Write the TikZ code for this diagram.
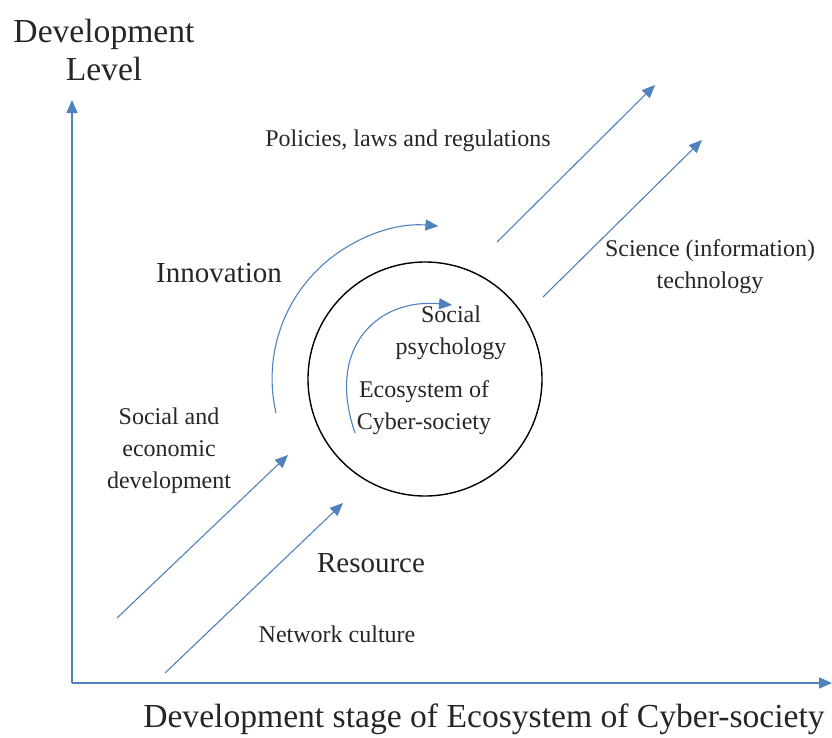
\documentclass[tikz,border=0pt]{standalone}
\usepackage{fontspec}
\setmainfont{Liberation Serif}
\usetikzlibrary{arrows.meta,positioning}
\definecolor{flowblue}{RGB}{79,129,189}

\begin{document}
\begin{tikzpicture}[x=1pt,y=1pt,flow/.style={draw=flowblue,line width=1.1pt,-{Triangle[length=13pt,width=11pt]}},axis/.style={flow,line width=1.6pt},lbl/.style={align=center,inner sep=0pt,text=black!85,font=\fontsize{24}{32}\selectfont},big/.style={lbl,font=\fontsize{29}{36}\selectfont},title/.style={lbl,font=\fontsize{33.6}{38}\selectfont}]
  \useasboundingbox (0,0) rectangle (832,-737);
  \coordinate (o) at (72,-683);
  \coordinate (ytip) at (72,-100);
  \coordinate (xtip) at (832,-683);
  \draw[axis] (o) -- (ytip);
  \draw[axis] (o) -- (xtip);
  \node[title] (ylab) at (104,-50) {Development\\Level};
  \node[title] (xlab) at (484,-719) {Development stage of Ecosystem of Cyber-society};

  \node[draw,circle,line width=1.4pt,minimum size=234pt,inner sep=0pt] (eco) at (425,-379) {};
  \node[lbl] (ecotxt) at (424,-408) {Ecosystem of\\Cyber-society};
  \node[lbl] (psy) at (451,-333) {Social\\psychology};

  \coordinate (inS) at (355,-433);
  \coordinate (inE) at (452,-305);
  \draw[flow] (inS) .. controls (325,-345) and (380,-298) .. (inE);
  \coordinate (outS) at (276,-413);
  \draw[flow] (outS) arc[start angle=193,end angle=85,radius=153];
  \node[big] (inno) at (219,-273) {Innovation};

  \coordinate (p1s) at (497,-242);
  \coordinate (p1e) at (655,-85);
  \coordinate (p2s) at (543,-297);
  \coordinate (p2e) at (702,-140);
  \draw[flow] (p1s) -- (p1e);
  \draw[flow] (p2s) -- (p2e);
  \node[lbl] (pol) at (408,-141) {Policies, laws and regulations};
  \node[lbl] (sci) at (710,-267) {Science (information)\\technology};

  \coordinate (s1s) at (117,-618);
  \coordinate (s1e) at (288,-455);
  \coordinate (s2s) at (165,-673);
  \coordinate (s2e) at (343,-503);
  \draw[flow] (s1s) -- (s1e);
  \draw[flow] (s2s) -- (s2e);
  \node[lbl] (soc) at (169,-451) {Social and\\economic\\development};
  \node[big] (res) at (371,-563) {Resource};
  \node[lbl] (net) at (337,-634) {Network culture};
\end{tikzpicture}
\end{document}
